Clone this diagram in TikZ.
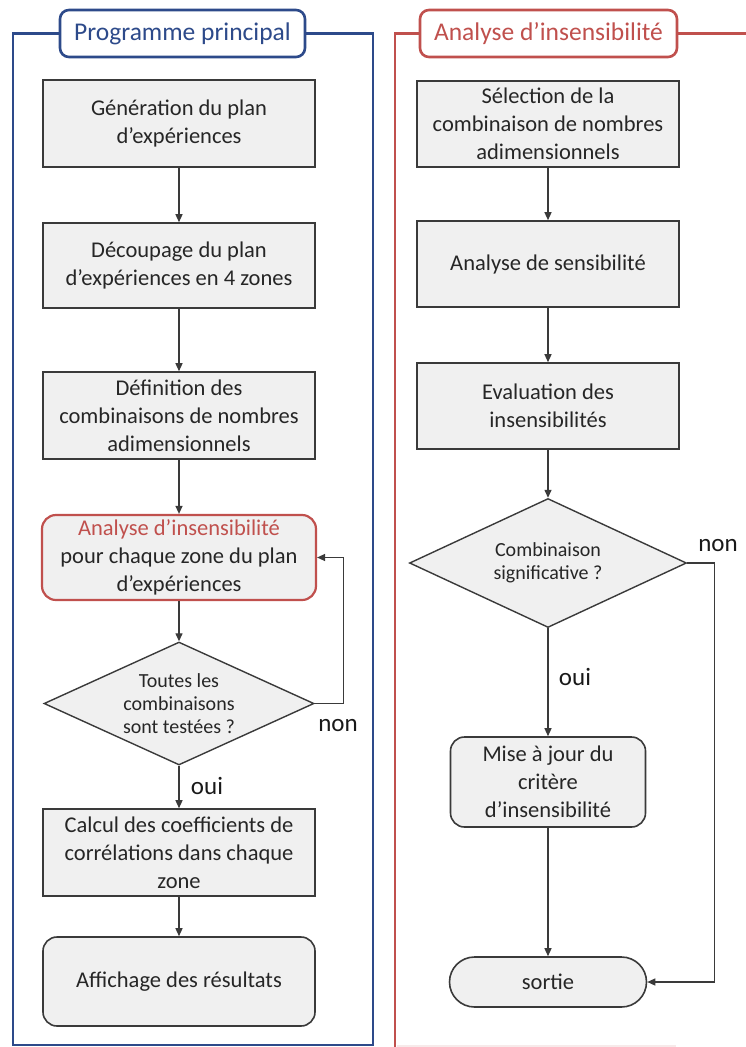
\documentclass[tikz,border=0pt]{standalone}
\usepackage{fontspec}
\setmainfont{Carlito}
\usetikzlibrary{shapes.geometric,arrows.meta}
\definecolor{progblue}{HTML}{2D4A8A}
\definecolor{analred}{HTML}{C0504D}
\definecolor{boxgray}{HTML}{F0F0F0}
\definecolor{edgegray}{HTML}{3A3A3A}
\tikzset{
  stepbox/.style={draw=edgegray,line width=1.6pt,fill=boxgray,inner sep=0pt,align=center,
    font=\fontsize{22.5}{28}\selectfont,text=black!85},
  roundbox/.style={stepbox,rounded corners=14pt},
  choice/.style={diamond,draw=edgegray,line width=1.4pt,fill=boxgray,inner sep=0pt,aspect=2.2,
    align=center,font=\fontsize{20}{23}\selectfont,text=black!85},
  titlebox/.style={draw,line width=2.6pt,fill=white,rounded corners=9pt,inner sep=0pt,
    font=\fontsize{25.5}{30}\selectfont},
  flow/.style={draw=edgegray,line width=1.3pt,-{Triangle[length=8pt,width=7pt]}},
  answer/.style={font=\fontsize{25}{30}\selectfont,text=black!90}
}
\begin{document}
\begin{tikzpicture}[x=1pt,y=-1pt]
\useasboundingbox (0,0) rectangle (746,1047);
% programme principal
\node[titlebox,draw=progblue,text=progblue,minimum width=245pt,minimum height=47pt] (progT) at (182.5,33.5) {Programme principal};
\draw[progblue,line width=2.6pt] (progT.west) -- (13,33.5) -- (13,1045) -- (373,1045) -- (373,33.5) -- (progT.east);
\node[stepbox,minimum width=272pt,minimum height=87pt] (gen) at (179,123.5) {Génération du plan\\d’expériences};
\node[stepbox,minimum width=272pt,minimum height=85pt] (cut) at (179,265.5) {Découpage du plan\\d’expériences en 4 zones};
\node[stepbox,minimum width=272pt,minimum height=87pt] (def) at (179,415.5) {Définition des\\combinaisons de nombres\\adimensionnels};
\node[roundbox,draw=analred,line width=2.2pt,minimum width=274pt,minimum height=85pt] (runA) at (179,557.5) {\textcolor{analred}{Analyse d’insensibilité}\\pour chaque zone du plan\\d’expériences};
\node[choice,minimum width=270pt,minimum height=123pt] (allT) at (179,703.5) {Toutes les\\combinaisons\\sont testées ?};
\node[stepbox,minimum width=272pt,minimum height=87pt] (corr) at (179,852.5) {Calcul des coefficients de\\corrélations dans chaque\\zone};
\node[roundbox,minimum width=272pt,minimum height=89pt] (show) at (179,981.5) {Affichage des résultats};
\draw[flow] (gen) -- (cut);
\draw[flow] (cut) -- (def);
\draw[flow] (def) -- (runA);
\draw[flow] (runA) -- (allT);
\draw[flow] (allT) -- (corr);
\draw[flow] (corr) -- (show);
\draw[flow] (allT.east) -- ++(29,0) |- (runA.east);
\node[answer] (nonL) at (338,726) {non};
\node[answer] (ouiL) at (207,786) {oui};
% analyse d'insensibilite
\node[titlebox,draw=analred,text=analred,minimum width=257pt,minimum height=47pt] (anaT) at (548.5,33.5) {Analyse d’insensibilité};
\draw[analred,line width=2.6pt] (anaT.west) -- (395,33.5) -- (395,1047);
\draw[analred,line width=2.6pt] (anaT.east) -- (746,33.5);
\draw[analred!12,line width=1.5pt] (397,1046) -- (676,1046);
\node[stepbox,minimum width=262pt,minimum height=86pt] (sel) at (548,124) {Sélection de la\\combinaison de nombres\\adimensionnels};
\node[stepbox,minimum width=262pt,minimum height=86pt] (sens) at (548,264) {Analyse de sensibilité};
\node[stepbox,minimum width=262pt,minimum height=86pt] (evalI) at (548,406) {Evaluation des\\insensibilités};
\node[choice,minimum width=277pt,minimum height=129pt] (sigT) at (548,563) {Combinaison\\significative ?};
\node[roundbox,minimum width=195pt,minimum height=90pt] (upd) at (548,782) {Mise à jour du\\critère\\d’insensibilité};
\node[stepbox,rounded corners=25pt,minimum width=197pt,minimum height=50pt] (out) at (548,982) {sortie};
\draw[flow] (sel) -- (sens);
\draw[flow] (sens) -- (evalI);
\draw[flow] (evalI) -- (sigT);
\draw[flow] (sigT) -- (upd);
\draw[flow] (upd) -- (out);
\draw[flow] (sigT.east) -- ++(27,0) |- (out.east);
\node[answer] (ouiR) at (575,677) {oui};
\node[answer] (nonR) at (718,546) {non};
\end{tikzpicture}
\end{document}
